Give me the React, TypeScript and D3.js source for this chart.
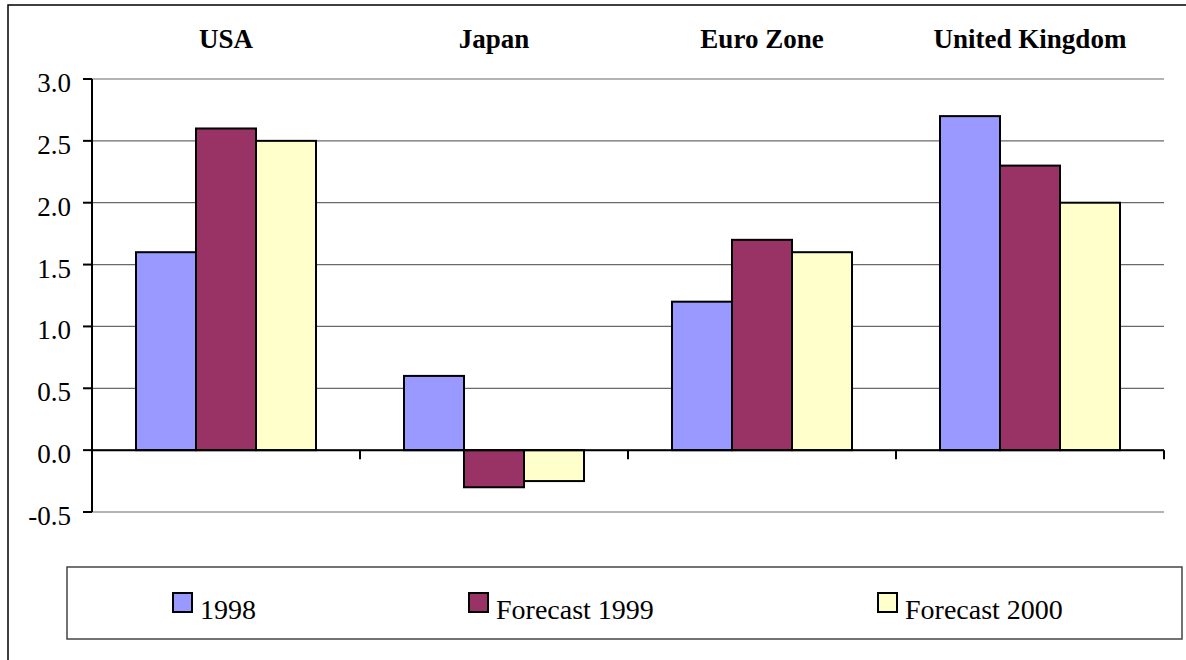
import React from "react";
import * as d3 from "d3";

const categories = ["USA", "Japan", "Euro Zone", "United Kingdom"];
const seriesNames = ["1998", "Forecast 1999", "Forecast 2000"];
const values1998 = [1.6, 0.6, 1.2, 2.7];
const values1999 = [2.6, -0.3, 1.7, 2.3];
const values2000 = [2.5, -0.25, 1.6, 2.0];
const seriesColors = ["#9999FF", "#993366", "#FFFFCC"];
const yTicks = [-0.5, 0, 0.5, 1.0, 1.5, 2.0, 2.5, 3.0];

const seriesValues = [values1998, values1999, values2000];

export default function App() {
  const W = 1186;
  const H = 660;
  const x = d3.scaleBand<string>().domain(categories).range([92, 1164]).padding(0);
  const inner = d3.scaleBand<string>().domain(seriesNames).range([44, 224]).padding(0);
  const y = d3.scaleLinear().domain([-0.5, 3.0]).range([512, 79]);
  const font = '"Liberation Serif", "Times New Roman", Times, serif';
  const legendX = [173, 469, 878];

  return (
    <svg
      width={W}
      height={H}
      style={{ position: "absolute", left: 0, top: 0, background: "#fff", fontFamily: font }}
    >
      <rect x={8} y={5} width={W + 20} height={H + 20} fill="#fff" stroke="#000" strokeWidth={1.5} />
      {yTicks.map((t) => (
        <line key={"g" + t} x1={92} x2={1164} y1={y(t)} y2={y(t)} stroke="#6a6a6a" strokeWidth={1.2} />
      ))}
      {categories.map((c) => (
        <text
          key={"c" + c}
          x={(x(c) as number) + x.bandwidth() / 2}
          y={48}
          textAnchor="middle"
          fontWeight="bold"
          fontSize={27}
          style={{ fontFamily: font }}
        >
          {c}
        </text>
      ))}
      {categories.map((c, ci) =>
        seriesNames.map((s, si) => {
          const v = seriesValues[si][ci];
          const bx = (x(c) as number) + (inner(s) as number);
          const y0 = y(Math.max(0, v));
          const y1 = y(Math.min(0, v));
          return (
            <rect
              key={c + s}
              x={bx}
              y={y0}
              width={inner.bandwidth()}
              height={y1 - y0}
              fill={seriesColors[si]}
              stroke="#000"
              strokeWidth={2}
            />
          );
        })
      )}
      <line x1={92} x2={92} y1={y(3.0)} y2={y(-0.5)} stroke="#000" strokeWidth={2} />
      {yTicks.map((t) => (
        <g key={"t" + t}>
          <line x1={83} x2={92} y1={y(t)} y2={y(t)} stroke="#000" strokeWidth={2} />
          <text x={71} y={y(t)} dy={13} textAnchor="end" fontSize={27} style={{ fontFamily: font }}>
            {t.toFixed(1)}
          </text>
        </g>
      ))}
      <line x1={92} x2={1164} y1={y(0)} y2={y(0)} stroke="#000" strokeWidth={2} />
      {categories.map((c) => {
        const tx = (x(c) as number) + x.bandwidth();
        return <line key={"xt" + c} x1={tx} x2={tx} y1={y(0)} y2={y(0) + 9} stroke="#000" strokeWidth={2} />;
      })}
      <rect x={67} y={567} width={1115} height={72} fill="#fff" stroke="#444" strokeWidth={1.5} />
      {seriesNames.map((s, si) => (
        <g key={"l" + s}>
          <rect x={legendX[si]} y={593} width={19} height={19} fill={seriesColors[si]} stroke="#000" strokeWidth={2} />
          <text x={legendX[si] + 27} y={619} fontSize={28} style={{ fontFamily: font }}>
            {s}
          </text>
        </g>
      ))}
    </svg>
  );
}
